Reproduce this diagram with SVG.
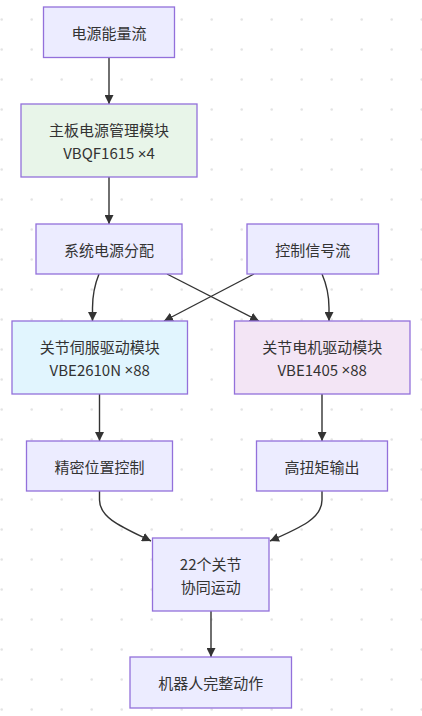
<svg xmlns="http://www.w3.org/2000/svg" width="422" height="716" viewBox="0 0 422 716">
<defs>
<pattern id="dots" x="0" y="4" width="30" height="30" patternUnits="userSpaceOnUse">
<circle cx="1.7" cy="15.5" r="1.3" fill="#e4e4e4"/>
</pattern>
<marker id="arr" viewBox="0 0 10 10" refX="10" refY="5" markerWidth="9" markerHeight="9" markerUnits="userSpaceOnUse" orient="auto">
<path d="M0,0 L10,5 L0,10 z" fill="#333"/>
</marker>
<style>
.n rect{fill:#ECECFF;stroke:#9370DB;stroke-width:1.3}
.n text{font-family:"Noto Sans CJK SC","Liberation Sans",sans-serif;font-size:15px;fill:#333;text-anchor:middle;dominant-baseline:central}
.x{font-family:"Liberation Sans",sans-serif}
#edges path{fill:none;stroke:#333;stroke-width:1.4;marker-end:url(#arr)}
</style>
</defs>
<rect width="422" height="716" fill="#fff"/>
<rect width="422" height="716" fill="url(#dots)"/>
<g id="edges">
<path d="M109,57.5 L109,104"/>
<path d="M109,177 L109,224"/>
<path d="M99,274 Q92.5,290 92.5,308 L92.5,321"/>
<path d="M167,274 L259,321"/>
<path d="M254,274 L164,321"/>
<path d="M322,274 Q329,290 329,308 L329,321"/>
<path d="M99.5,394 L99.5,441"/>
<path d="M322,394 L322,441"/>
<path d="M99.5,491 L99.5,500 C99.5,518 122,527 151,541"/>
<path d="M322,491 L322,500 C322,518 302,527 270,541"/>
<path d="M211,611 L211,657"/>
</g>
<g id="n1" class="n"><rect x="43.5" y="7" width="131" height="50.5"/><text x="109" y="32.3">电源能量流</text></g>
<g id="n2" class="n"><rect x="21" y="104" width="176" height="73" style="fill:#E8F5E9"/><text x="109" y="129.5">主板电源管理模块</text><text x="109" y="152.5">VBQF1615 <tspan class="x">×</tspan>4</text></g>
<g id="n3" class="n"><rect x="36" y="224" width="146" height="50"/><text x="109" y="249">系统电源分配</text></g>
<g id="n4" class="n"><rect x="247" y="224" width="131.5" height="50"/><text x="312.7" y="249">控制信号流</text></g>
<g id="n5" class="n"><rect x="12" y="321" width="175.5" height="73" style="fill:#E1F5FE"/><text x="99.7" y="346">关节伺服驱动模块</text><text x="99.7" y="369">VBE2610N <tspan class="x">×</tspan>88</text></g>
<g id="n6" class="n"><rect x="234.5" y="321" width="175.5" height="73" style="fill:#F3E5F5"/><text x="322.2" y="346">关节电机驱动模块</text><text x="322.2" y="369">VBE1405 <tspan class="x">×</tspan>88</text></g>
<g id="n7" class="n"><rect x="26.5" y="441" width="146" height="50"/><text x="99.5" y="466">精密位置控制</text></g>
<g id="n8" class="n"><rect x="256.5" y="441" width="131" height="50"/><text x="322" y="466">高扭矩输出</text></g>
<g id="n9" class="n"><rect x="152.5" y="538" width="116.5" height="73"/><text x="210.7" y="563">22个关节</text><text x="210.7" y="586">协同运动</text></g>
<g id="n10" class="n"><rect x="130" y="657" width="161.5" height="51"/><text x="210.7" y="682.5">机器人完整动作</text></g>
</svg>
